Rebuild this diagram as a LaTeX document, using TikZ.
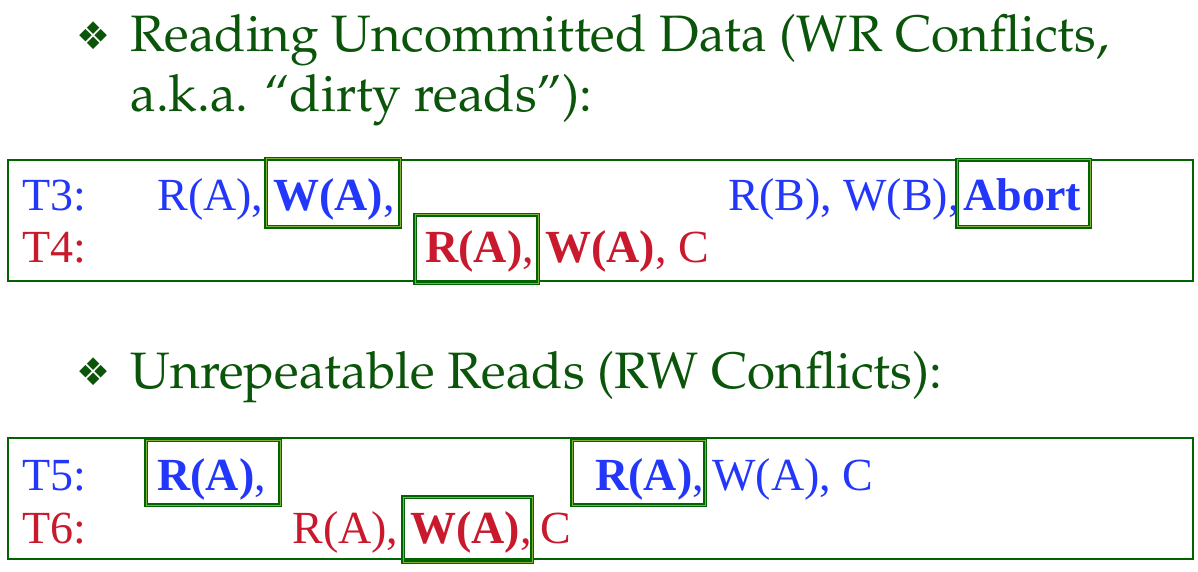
\documentclass[tikz,border=0pt]{standalone}
\usepackage{fontspec}
\setmainfont{Liberation Serif}
\newfontfamily\symfont{DejaVu Sans}
\newcommand{\headfont}{\fontencoding{T1}\fontfamily{ppl}\selectfont}
\definecolor{headgreen}{RGB}{10,85,10}
\definecolor{boxgreen}{RGB}{0,100,0}
\definecolor{litegreen}{RGB}{130,175,60}
\definecolor{tblue}{RGB}{35,55,250}
\definecolor{tred}{RGB}{200,25,45}
\tikzset{
  head/.style={anchor=base west, inner sep=0pt, text=headgreen, font=\headfont\fontsize{25.6}{30}\selectfont},
  bul/.style={anchor=center, inner sep=0pt, text=headgreen, font=\symfont\fontsize{19}{22}\selectfont},
  tb/.style={anchor=base west, inner sep=0pt, text=tblue, font=\rmfamily\fontsize{23}{27}\selectfont},
  tr/.style={anchor=base west, inner sep=0pt, text=tred, font=\rmfamily\fontsize{23}{27}\selectfont},
  frame/.style={draw=boxgreen, line width=1.3pt},
  hl/.style={draw=boxgreen, line width=0.75pt, double=litegreen, double distance=0.5pt},
}
\begin{document}
\begin{tikzpicture}[x=0.5pt, y=-0.5pt]
\useasboundingbox (0,0) rectangle (1198,572);
% heading 1
\node[bul] (b1) at (94,36) {❖};
\node[head] (h1a) at (130,52) {Reading Uncommitted Data (WR Conflicts,};
\node[head] (h1b) at (130,112) {a.k.a. ``dirty reads''):};
% box 1
\draw[frame] (8,160) rectangle (1193,281);
\node[tb] (t3) at (22,211) {T3:};
\node[tb] (t3a) at (157,211) {R(A),};
\node[tb] (t3b) at (273,211) {\bfseries W(A)\mdseries,};
\node[tb] (t3c) at (728,211) {R(B), W(B),};
\node[tb] (t3d) at (963,211) {\bfseries Abort};
\node[tr] (t4) at (22,263) {T4:};
\node[tr] (t4a) at (425,263) {\bfseries R(A)\mdseries,};
\node[tr] (t4b) at (545,263) {\bfseries W(A)\mdseries, C};
\draw[hl] (266,159) rectangle (400,227);
\draw[hl] (957,160) rectangle (1090,227);
\draw[hl] (415,215) rectangle (538,283);
% heading 2
\node[bul] (b2) at (94,372) {❖};
\node[head] (h2) at (130,388) {Unrepeatable Reads (RW Conflicts):};
% box 2
\draw[frame] (8,438) rectangle (1193,559);
\node[tb] (t5) at (22,490) {T5:};
\node[tb] (t5a) at (157,490) {\bfseries R(A)\mdseries,};
\node[tb] (t5b) at (595,490) {\bfseries R(A)\mdseries,};
\node[tb] (t5c) at (712,490) {W(A), C};
\node[tr] (t6) at (22,543) {T6:};
\node[tr] (t6a) at (292,543) {R(A),};
\node[tr] (t6b) at (410,543) {\bfseries W(A)\mdseries,};
\node[tr] (t6c) at (540,543) {C};
\draw[hl] (146,440) rectangle (280,505);
\draw[hl] (572,440) rectangle (705,505);
\draw[hl] (403,497) rectangle (532,562);
\end{tikzpicture}
\end{document}
